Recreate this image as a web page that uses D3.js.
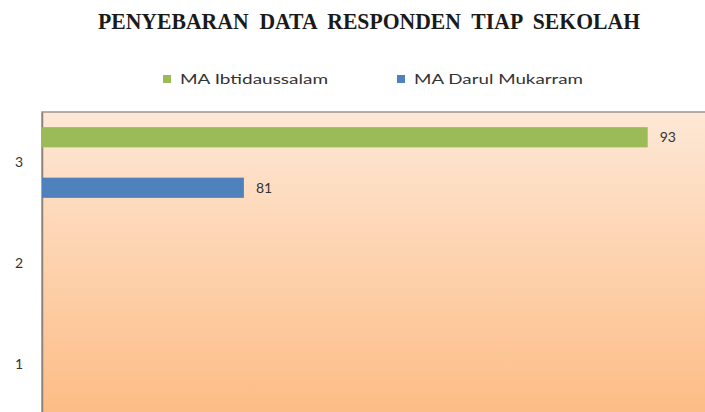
<!DOCTYPE html>
<html>
<head>
<meta charset="utf-8">
<script src="https://cdn.jsdelivr.net/npm/d3@7"></script>
<style>
	body { margin: 0; background: #ffffff; }
	svg { display: block; }
</style>
</head>
<body>
<div id="chart"></div>
<script>
const categories = ["3", "2", "1"];
const seriesNames = ["MA Ibtidaussalam", "MA Darul Mukarram"];
const ibtidaussalam = [93, null, null];
const darulMukarram = [81, null, null];
const xDomain = [75, 95];

const colours = ["#9BBB59", "#4F81BD"];

const W = 705, H = 412;
const margin = { top: 112, right: -10, bottom: -3, left: 42 };
const width = W - margin.left - margin.right,
	height = H - margin.top - margin.bottom;

const svg = d3
	.select("#chart")
	.append("svg")
	.attr("width", W)
	.attr("height", H);

// background gradient of the plot area
const grad = svg.append("defs")
	.append("linearGradient")
	.attr("id", "bg")
	.attr("x1", 0).attr("y1", 0).attr("x2", 0).attr("y2", 1);
grad.append("stop").attr("offset", "0%").attr("stop-color", "#fde8d6");
grad.append("stop").attr("offset", "100%").attr("stop-color", "#fdbc85");

// title
svg.append("text")
	.attr("x", 369)
	.attr("y", 29)
	.attr("text-anchor", "middle")
	.attr("font-family", "Liberation Serif, serif")
	.attr("font-weight", "bold")
	.attr("font-size", 23)
	.attr("fill", "#1a1a1a")
	.attr("textLength", 542)
	.attr("lengthAdjust", "spacingAndGlyphs")
	.style("white-space", "pre")
	.text("PENYEBARAN  DATA  RESPONDEN  TIAP  SEKOLAH");

// legend
const legendX = [163, 397];
const legendW = [148, 169];
seriesNames.forEach((name, i) => {
	svg.append("rect")
		.attr("x", legendX[i])
		.attr("y", 75)
		.attr("width", 8)
		.attr("height", 8)
		.attr("fill", colours[i]);
	svg.append("text")
		.attr("x", legendX[i] + 17)
		.attr("y", 84)
		.attr("font-family", "Lato, sans-serif")
		.attr("font-size", 14)
		.attr("fill", "#333")
		.attr("textLength", legendW[i])
		.attr("lengthAdjust", "spacingAndGlyphs")
		.text(name);
});

const g = svg.append("g")
	.attr("transform", `translate(${margin.left},${margin.top})`);

g.append("rect")
	.attr("x", 0)
	.attr("y", 0)
	.attr("width", width)
	.attr("height", height)
	.attr("fill", "url(#bg)")
	.attr("stroke", "#a0948a")
	.attr("stroke-width", 1.5);

const x = d3.scaleLinear().domain(xDomain).range([0, width]);

const y = d3.scaleBand().domain(categories).range([0, height]).padding(0);

const ySub = d3.scaleBand()
	.domain(seriesNames)
	.range([0, y.bandwidth()])
	.paddingInner(0.6)
	.paddingOuter(0.3);

const yAxis = g.append("g")
	.call(d3.axisLeft(y).tickSize(0).tickPadding(19));
yAxis.select(".domain").attr("stroke", "#8c8279").attr("stroke-width", 1.5);
yAxis.selectAll("text")
	.attr("font-family", "Lato, sans-serif")
	.attr("font-size", 14)
	.attr("fill", "#333");

const rows = [];
categories.forEach((c, i) => {
	rows.push({ cat: c, key: seriesNames[0], value: ibtidaussalam[i], colour: colours[0] });
	rows.push({ cat: c, key: seriesNames[1], value: darulMukarram[i], colour: colours[1] });
});
const bars = rows.filter((d) => d.value != null);

g.selectAll(".bar")
	.data(bars)
	.join("rect")
	.attr("class", "bar")
	.attr("x", 0)
	.attr("y", (d) => y(d.cat) + ySub(d.key))
	.attr("width", (d) => x(d.value))
	.attr("height", ySub.bandwidth())
	.attr("fill", (d) => d.colour);

g.selectAll(".lbl")
	.data(bars)
	.join("text")
	.attr("class", "lbl")
	.attr("x", (d) => x(d.value) + 12)
	.attr("y", (d) => y(d.cat) + ySub(d.key) + ySub.bandwidth() / 2)
	.attr("dy", "0.35em")
	.attr("font-family", "Lato, sans-serif")
	.attr("font-size", 14)
	.attr("fill", "#333")
	.text((d) => d.value);
</script>
</body>
</html>
